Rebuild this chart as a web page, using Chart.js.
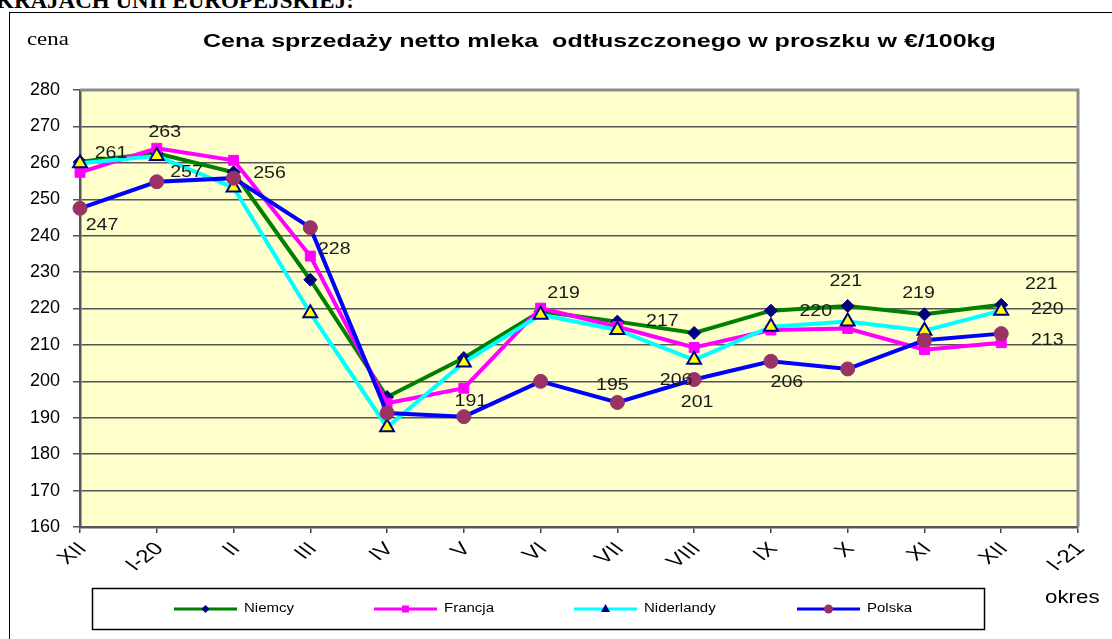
<!DOCTYPE html>
<html lang="pl">
<head>
<meta charset="utf-8">
<script src="https://cdn.jsdelivr.net/npm/chart.js@4.4.1/dist/chart.umd.min.js"></script>
<style>
  html, body { margin:0; padding:0; background:#fff; }
  body { width:1112px; height:639px; overflow:hidden; position:relative; }
  #heading { position:absolute; left:-4px; top:-11px; font:bold 23px "Liberation Serif", serif; line-height:23px; white-space:pre; color:#000; }
  #frame { position:absolute; left:9px; top:12px; width:1200px; height:700px; border-left:1.5px solid #000; border-top:1.5px solid #000; }
  #wrap { position:absolute; left:0; top:0; width:1112px; height:639px; }
  .txt { position:absolute; white-space:pre; color:#000; line-height:1; transform-origin:0 0; }
  #cena { left:27px; top:28px; font:19px "Liberation Serif", serif; }
  #title { left:203px; top:30px; font:bold 19px "Liberation Sans", Arial, sans-serif; }
  #okres { left:1045px; top:586px; font:19px "Liberation Sans", Arial, sans-serif; }
</style>
</head>
<body>
<div id="heading">KRAJACH UNII EUROPEJSKIEJ:</div>
<div id="frame"></div>
<div id="wrap"><canvas id="chart"></canvas></div>
<div id="cena" class="txt">cena</div>
<div id="title" class="txt">Cena sprzedaży netto mleka  odtłuszczonego w proszku w €/100kg</div>
<div id="okres" class="txt">okres</div>
<script>
// months (okres)
const months = ['XII', 'I-20', 'II', 'III', 'IV', 'V', 'VI', 'VII', 'VIII', 'IX', 'X', 'XI', 'XII', 'I-21'];

// €/100kg
const niemcy     = [260.3, 262.6, 257.4, 227.9, 195.7, 206.4, 219.2, 216.4, 213.3, 219.4, 220.7, 218.4, 221.0, null];
const francja    = [257.4, 264.0, 260.7, 234.4, 194.0, 198.1, 220.1, 215.0, 209.3, 214.1, 214.5, 208.7, 210.6, null];
const niderlandy = [259.9, 261.9, 253.2, 218.7, 187.4, 205.2, 218.3, 214.1, 205.9, 215.0, 216.4, 213.9, 219.4, null];
const polska     = [247.5, 254.8, 255.8, 242.2, 191.3, 190.3, 200.0, 194.2, 200.5, 205.5, 203.4, 211.3, 213.1, null];

const yTicks = [160, 170, 180, 190, 200, 210, 220, 230, 240, 250, 260, 270, 280];

// value labels: [series, month index, text]
const valueLabels = [
  ['Niemcy', 0, '261'], ['Francja', 1, '263'], ['Niemcy', 2, '257'], ['Polska', 0, '247'],
  ['Polska', 2, '256'], ['Niemcy', 3, '228'], ['Polska', 5, '191'], ['Niemcy', 6, '219'],
  ['Polska', 7, '195'], ['Niemcy', 7, '217'], ['Niderlandy', 8, '206'], ['Polska', 8, '201'],
  ['Polska', 9, '206'], ['Niderlandy', 10, '220'], ['Niemcy', 10, '221'], ['Niemcy', 11, '219'],
  ['Niemcy', 12, '221'], ['Niderlandy', 12, '220'], ['Polska', 12, '213']
];
// where each label sits relative to its point
const labelOffsets = [
  [31,-8], [8,-16], [-47,0], [22,17], [36,-5], [24,-30], [7,-15], [23,-18],
  [-5,-17], [45,0], [-18,20], [3,23], [16,21], [-32,-10], [-2,-25], [-6,-21],
  [40,-21], [46,-1], [46,7]
];

// stretch html texts to the widths in the picture
function fitWidth(id, w){
  const el = document.getElementById(id);
  el.style.transform = 'scaleX(' + (w / el.offsetWidth) + ')';
}
fitWidth('title', 793);
fitWidth('cena', 42);
fitWidth('okres', 54);

const plotBg = {
  id: 'plotBg',
  beforeDraw(chart){
    const {ctx, chartArea:a} = chart;
    ctx.save();
    ctx.fillStyle = '#FFFFCC';
    ctx.fillRect(a.left, a.top, a.right - a.left, a.bottom - a.top);
    ctx.restore();
  },
  beforeDatasetsDraw(chart){
    const {ctx, chartArea:a} = chart;
    ctx.save();
    ctx.strokeStyle = '#8c8c8c';
    ctx.lineWidth = 3;
    ctx.beginPath();
    ctx.moveTo(a.left, a.top);
    ctx.lineTo(a.right, a.top);
    ctx.lineTo(a.right, a.bottom);
    ctx.stroke();
    ctx.restore();
  }
};

const xLabels = {
  id: 'xLabels',
  afterDraw(chart){
    const ctx = chart.ctx, xs = chart.scales.x;
    ctx.save();
    ctx.fillStyle = '#000';
    ctx.font = '18px "Liberation Sans", Arial, sans-serif';
    ctx.textAlign = 'right';
    ctx.textBaseline = 'middle';
    chart.data.labels.forEach((lab, i) => {
      const x = xs.getPixelForTick(i);
      ctx.save();
      ctx.translate(x + 3, xs.top + 19);
      ctx.scale(1.35, 1);
      ctx.rotate(-Math.PI / 4);
      ctx.fillText(lab, 0, 0);
      ctx.restore();
    });
    ctx.restore();
  }
};

const dataLabels = {
  id: 'dataLabels',
  afterDatasetsDraw(chart){
    const ctx = chart.ctx;
    ctx.save();
    ctx.fillStyle = '#1a1a1a';
    ctx.font = '17px "Liberation Sans", Arial, sans-serif';
    ctx.textAlign = 'center';
    ctx.textBaseline = 'middle';
    valueLabels.forEach(([name, i, text], k) => {
      const di = chart.data.datasets.findIndex(d => d.label === name);
      const pt = chart.getDatasetMeta(di).data[i];
      const [dx, dy] = labelOffsets[k];
      ctx.save();
      ctx.translate(pt.x + dx, pt.y + dy);
      ctx.scale(1.15, 1);
      ctx.fillText(text, 0, 0);
      ctx.restore();
    });
    ctx.restore();
  }
};

function legendMarker(ctx, style, x, y, fill){
  ctx.fillStyle = fill;
  ctx.beginPath();
  if(style === 'rectRot'){ ctx.moveTo(x-4,y); ctx.lineTo(x,y-4); ctx.lineTo(x+4,y); ctx.lineTo(x,y+4); }
  else if(style === 'rect'){ ctx.rect(x-3.5, y-3.5, 7, 7); }
  else if(style === 'triangle'){ ctx.moveTo(x,y-5); ctx.lineTo(x+4.5,y+3); ctx.lineTo(x-4.5,y+3); }
  else { ctx.arc(x, y, 4.5, 0, Math.PI*2); }
  ctx.closePath();
  ctx.fill();
}

const boxLegend = {
  id: 'boxLegend',
  afterDraw(chart){
    const ctx = chart.ctx;
    const starts = [174, 374, 574, 797];
    const cy = 609;
    ctx.save();
    ctx.strokeStyle = '#000';
    ctx.lineWidth = 1.5;
    ctx.strokeRect(92.5, 588.5, 892, 41);
    chart.data.datasets.forEach((ds, i) => {
      const x0 = starts[i];
      ctx.strokeStyle = ds.borderColor;
      ctx.lineWidth = 3;
      ctx.beginPath();
      ctx.moveTo(x0, cy); ctx.lineTo(x0 + 63, cy);
      ctx.stroke();
      legendMarker(ctx, ds.pointStyle, x0 + 31.5, cy, ds.legendMarker);
      ctx.save();
      ctx.translate(x0 + 70, cy);
      ctx.scale(1.25, 1);
      ctx.fillStyle = '#000';
      ctx.font = '12px "Liberation Sans", Arial, sans-serif';
      ctx.textBaseline = 'middle';
      ctx.fillText(ds.label, 0, 0);
      ctx.restore();
    });
    ctx.restore();
  }
};

const chart = new Chart(document.getElementById('chart'), {
  type: 'line',
  data: {
    labels: months,
    datasets: [
      {label:'Niemcy', data:niemcy, borderColor:'#008000', borderWidth:4, pointStyle:'rectRot', pointRadius:6.5,
       pointBackgroundColor:'#000080', pointBorderColor:'#000080', pointBorderWidth:1, legendMarker:'#000080', order:3},
      {label:'Francja', data:francja, borderColor:'#FF00FF', borderWidth:4, pointStyle:'rect', pointRadius:7,
       pointBackgroundColor:'#FF00FF', pointBorderColor:'#FF00FF', pointBorderWidth:1, legendMarker:'#FF00FF', order:2},
      {label:'Niderlandy', data:niderlandy, borderColor:'#00FFFF', borderWidth:4, pointStyle:'triangle', pointRadius:8,
       pointBackgroundColor:'#FFFF00', pointBorderColor:'#000080', pointBorderWidth:2, legendMarker:'#000080', order:1},
      {label:'Polska', data:polska, borderColor:'#0000FF', borderWidth:4, pointStyle:'circle', pointRadius:7,
       pointBackgroundColor:'#993366', pointBorderColor:'#993366', pointBorderWidth:1, legendMarker:'#993366', order:0}
    ]
  },
  options: {
    responsive: true,
    maintainAspectRatio: false,
    devicePixelRatio: 1,
    animation: false,
    events: [],
    layout: { padding: { left:0, right:34, top:90, bottom:0 } },
    elements: { line: { tension:0 } },
    plugins: { legend:{display:false}, tooltip:{enabled:false}, title:{display:false} },
    scales: {
      x: {
        type: 'category',
        offset: false,
        ticks: { display:false, autoSkip:false },
        grid: { drawOnChartArea:false, tickLength:6, color:'#444', lineWidth:1.5 },
        border: { color:'#555', width:2.5 },
        afterFit(s){ s.height = 112; }
      },
      y: {
        min: yTicks[0],
        max: yTicks[yTicks.length - 1],
        afterBuildTicks(s){ s.ticks = yTicks.map(v => ({value:v})); },
        ticks: { color:'#000', padding:13, font:{ family:'"Liberation Sans", Arial, sans-serif', size:18 } },
        grid: { color:'#555', lineWidth:1.5, tickLength:7 },
        border: { color:'#555', width:2.5 },
        afterFit(s){ s.width = 80; }
      }
    }
  },
  plugins: [plotBg, dataLabels, xLabels, boxLegend]
});
</script>
</body>
</html>
